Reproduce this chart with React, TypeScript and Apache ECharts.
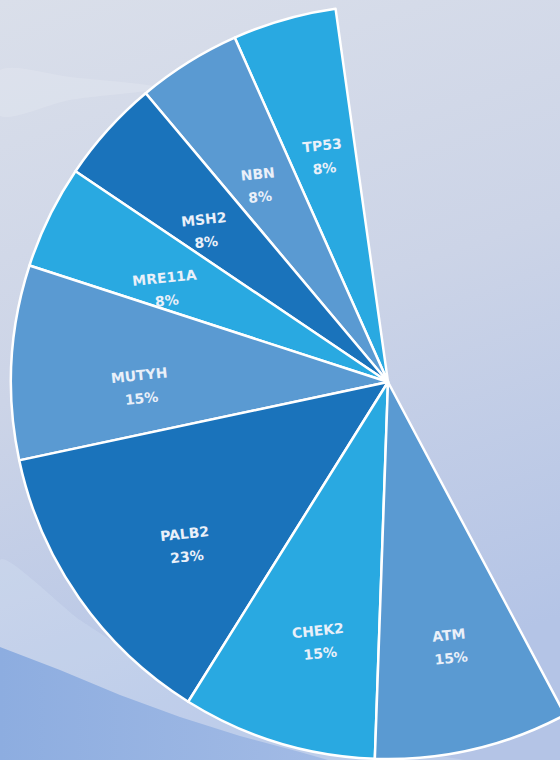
import React, { useEffect, useRef } from 'react';
import * as echarts from 'echarts';

const genes = ['TP53', 'NBN', 'MSH2', 'MRE11A', 'MUTYH', 'PALB2', 'CHEK2', 'ATM'];
const percents = [8, 8, 8, 8, 15, 23, 15, 15];
const sliceColors = ['#29a9e1', '#5a9ad2', '#1a73bb', '#29a9e1', '#5a9ad2', '#1a73bb', '#29a9e1', '#5a9ad2'];

export default function App() {
  const ref = useRef<HTMLDivElement>(null);
  useEffect(() => {
    const chart = echarts.init(ref.current!, null, { renderer: 'svg' });
    const fillData = genes.map((g, i) => ({ name: g, value: percents[i], itemStyle: { color: sliceColors[i] } }));
    const labelData = genes.map((g, i) => ({ name: g, value: percents[i] }));
    chart.setOption({
      animation: false,
      backgroundColor: new echarts.graphic.LinearGradient(0, 0, 0.25, 1, [
        { offset: 0, color: '#dadfea' },
        { offset: 0.5, color: '#ccd4e7' },
        { offset: 1, color: '#b4c4e6' },
      ]),
      graphic: [
        {
          type: 'polygon',
          z: 0,
          shape: {
            points: [[0, 70], [70, 77], [160, 88], [70, 100], [0, 116]],
            smooth: 0.3,
          },
          style: { fill: 'rgba(255,255,255,0.14)' },
        },
        {
          type: 'polygon',
          z: 0,
          shape: {
            points: [[0, 560], [80, 620], [160, 670], [260, 712], [380, 746], [470, 762], [0, 762]],
            smooth: 0.2,
          },
          style: { fill: 'rgba(225,235,250,0.22)' },
        },
        {
          type: 'polygon',
          z: 1,
          shape: {
            points: [[0, 647], [60, 670], [120, 695], [180, 717], [240, 736], [300, 752], [335, 762], [0, 762]],
          },
          style: {
            fill: new echarts.graphic.LinearGradient(0, 0, 1, 0, [
              { offset: 0, color: '#8dade0' },
              { offset: 1, color: '#a3bbe5' },
            ]),
          },
        },
      ],
      series: [
        {
          type: 'pie',
          center: [388, 382],
          radius: 377,
          startAngle: 98,
          endAngle: 298,
          clockwise: false,
          silent: true,
          z: 2,
          data: fillData,
          label: { show: false },
          labelLine: { show: false },
          itemStyle: { borderColor: '#ffffff', borderWidth: 2.5 },
        },
        {
          type: 'pie',
          center: [393, 400],
          radius: [124, 376],
          startAngle: 98,
          endAngle: 298,
          clockwise: false,
          silent: true,
          z: 3,
          data: labelData,
          itemStyle: { color: 'rgba(0,0,0,0)', borderWidth: 0 },
          labelLine: { show: false },
          label: {
            show: true,
            position: 'inside',
            formatter: '{b}\n{c}%',
            color: '#eaf0f9',
            fontFamily: 'DejaVu Sans',
            fontWeight: 'bold',
            fontSize: 14,
            lineHeight: 23,
            rotate: 6,
            align: 'center',
          },
        },
      ],
    });
    return () => chart.dispose();
  }, []);
  return <div ref={ref} style={{ position: 'absolute', left: 0, top: 0, width: 560, height: 760 }} />;
}
